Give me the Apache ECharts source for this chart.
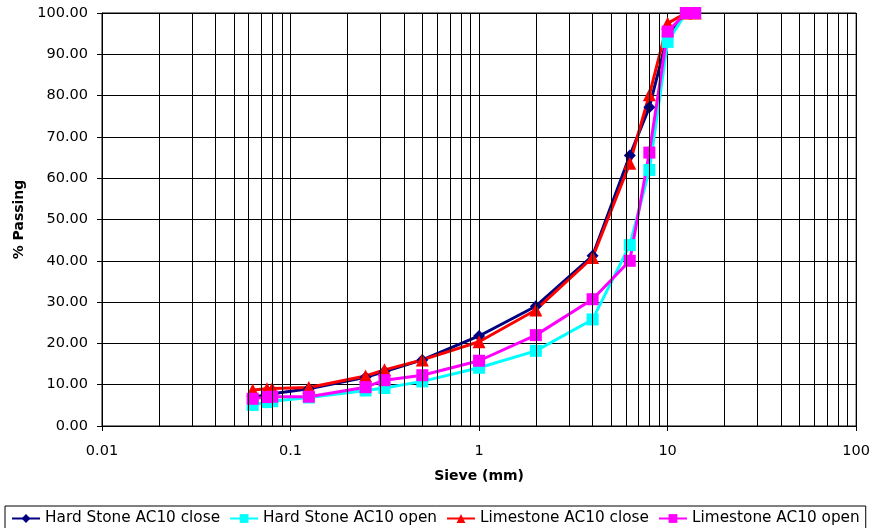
<!DOCTYPE html>
<html>
<head>
<meta charset="utf-8">
<script src="https://cdn.jsdelivr.net/npm/echarts@6/dist/echarts.min.js"></script>
<style>
  html, body { margin: 0; padding: 0; background: #fff; }
  #chart { width: 873px; height: 528px; }
</style>
</head>
<body>
<div id="chart"></div>
<script>
// sieve sizes (mm)
var sieves = [0.063, 0.075, 0.08, 0.125, 0.25, 0.315, 0.5, 1, 2, 4, 6.3, 8, 10, 12.5, 14];

var hardClose = [7.0, 7.5, 7.8, 9.0, 11.8, 13.2, 16.0, 21.8, 29.0, 41.2, 65.5, 77.2, 94.5, 100, 100];
var hardOpen = [5.1, 5.8, 6.0, 6.9, 8.6, 9.2, 10.8, 14.1, 18.2, 25.8, 43.8, 62.0, 93.0, 100, 100];
var limeClose = [8.7, 9.0, 9.1, 9.3, 12.1, 13.6, 16.0, 20.4, 28.1, 40.8, 63.6, 80.2, 97.5, 100, 100];
var limeOpen = [6.6, 7.0, 7.1, 7.1, 9.4, 11.1, 12.3, 15.8, 22.0, 30.7, 40.0, 66.2, 95.5, 100, 100];

var xTickLabels = ['0.01', '0.1', '1', '10', '100'];
// minor vertical grid lines (2..9 of each decade)
var minorGrid = [0.02, 0.03, 0.04, 0.05, 0.06, 0.07, 0.08, 0.09,
                 0.2, 0.3, 0.4, 0.5, 0.6, 0.7, 0.8, 0.9,
                 2, 3, 4, 5, 6, 7, 8, 9,
                 20, 30, 40, 50, 60, 70, 80, 90];

function pairs(vals) {
    return sieves.map(function (s, i) { return [s, vals[i]]; });
}

var font = 'DejaVu Sans';
var chart = echarts.init(document.getElementById('chart'));

function lineSeries(name, vals, color, symbol, size) {
    return {
        name: name,
        type: 'line',
        data: pairs(vals),
        symbol: symbol,
        symbolSize: size,
        showAllSymbol: true,
        lineStyle: { color: color, width: 3 },
        itemStyle: { color: color },
        animation: false
    };
}

var option = {
    backgroundColor: '#fff',
    textStyle: { fontFamily: font },
    grid: {
        left: 102, right: 16, top: 13, bottom: 102,
        show: true, borderColor: '#000', borderWidth: 1, backgroundColor: '#fff'
    },
    legend: {
        left: 5,
        top: 506,
        width: 900,
        padding: [5, 6, 5, 6],
        itemWidth: 28,
        itemHeight: 11,
        itemGap: 9,
        borderColor: '#000',
        borderWidth: 1,
        textStyle: { fontFamily: font, fontSize: 15.3, color: '#000' },
        data: ['Hard Stone AC10 close', 'Hard Stone AC10 open', 'Limestone AC10 close', 'Limestone AC10 open']
    },
    xAxis: {
        type: 'log',
        logBase: 10,
        min: 0.01,
        max: 100,
        name: 'Sieve (mm)',
        nameLocation: 'middle',
        nameGap: 43,
        nameTextStyle: { fontFamily: font, fontSize: 14, fontWeight: 'bold', color: '#000' },
        axisLine: { lineStyle: { color: '#000', width: 1 } },
        axisTick: { show: true, length: 5, lineStyle: { color: '#000' } },
        axisLabel: {
            margin: 18,
            fontFamily: font,
            fontSize: 14.5,
            color: '#000',
            formatter: function (value, index) {
                return xTickLabels[index];
            }
        },
        splitLine: { show: true, lineStyle: { color: '#000', width: 1 } }
    },
    yAxis: {
        type: 'value',
        min: 0,
        max: 100,
        interval: 10,
        name: '% Passing',
        nameLocation: 'middle',
        nameGap: 65,
        nameTextStyle: { fontFamily: font, fontSize: 14, fontWeight: 'bold', color: '#000' },
        axisLine: { show: true, lineStyle: { color: '#000', width: 1 } },
        axisTick: { show: true, length: 5, lineStyle: { color: '#000' } },
        axisLabel: {
            margin: 14,
            fontFamily: font,
            fontSize: 14.5,
            color: '#000',
            formatter: function (value) {
                return value.toFixed(2);
            }
        },
        splitLine: { show: true, lineStyle: { color: '#000', width: 1 } }
    },
    series: [
        {
            // minor grid holder
            type: 'line',
            data: [],
            silent: true,
            animation: false,
            markLine: {
                silent: true,
                symbol: ['none', 'none'],
                label: { show: false },
                animation: false,
                lineStyle: { color: '#000', width: 1, type: 'solid' },
                emphasis: { disabled: true },
                data: minorGrid.map(function (v) { return { xAxis: v }; })
            }
        },
        lineSeries('Hard Stone AC10 close', hardClose, '#000080', 'diamond', 12),
        lineSeries('Hard Stone AC10 open', hardOpen, '#00FFFF', 'rect', 12),
        lineSeries('Limestone AC10 close', limeClose, '#FF0000', 'triangle', 13),
        lineSeries('Limestone AC10 open', limeOpen, '#FF00FF', 'rect', 12)
    ]
};
chart.setOption(option);
</script>
</body>
</html>
